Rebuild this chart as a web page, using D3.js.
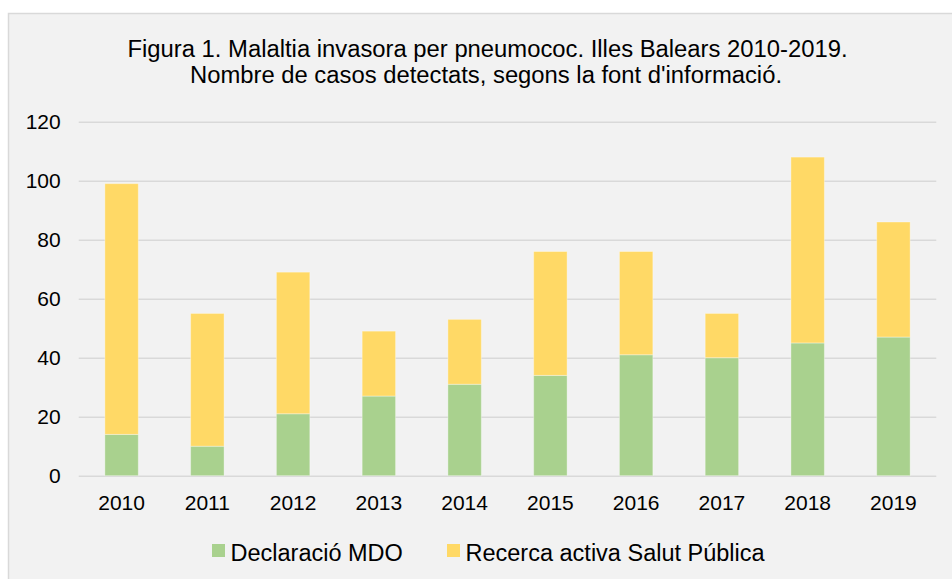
<!DOCTYPE html>
<html>
<head>
<meta charset="utf-8">
<script src="https://cdn.jsdelivr.net/npm/d3@7"></script>
<style>
  body { margin: 0; background: #fff; }
  text { font-family: "Liberation Sans", Arial, sans-serif; fill: #000; }
</style>
</head>
<body>
<script>
var years = ['2010', '2011', '2012', '2013', '2014', '2015', '2016', '2017', '2018', '2019'];
var declaracio = [14, 10, 21, 27, 31, 34, 41, 40, 45, 47];
var recerca = [85, 45, 48, 22, 22, 42, 35, 15, 63, 39];
var yTicks = [0, 20, 40, 60, 80, 100, 120];
var seriesNames = ['Declaració MDO', 'Recerca activa Salut Pública'];
var colors = ['#a9d18e', '#ffd966'];
var titleLines = [
    'Figura 1. Malaltia  invasora per pneumococ. Illes Balears 2010-2019.',
    'Nombre de casos detectats, segons la font d\'informació.'
];

var width = 952,
    height = 579,
    padding = { top: 121.7, bottom: 103.3, left: 78.7, right: 15.7 };

var svg = d3.select('body')
    .append('svg')
    .attr('width', width)
    .attr('height', height)

// chart background
svg.append('rect')
    .attr('x', 8.5).attr('y', 13.5)
    .attr('width', width).attr('height', height)
    .attr('fill', '#f2f2f2')
    .attr('stroke', '#d9d9d9')
    .attr('stroke-width', 1.5)

var title = svg.append('g').style('white-space', 'pre')
title.append('text')
    .attr('x', 487.5).attr('y', 56.5)
    .attr('text-anchor', 'middle')
    .attr('font-size', '23px')
    .attr('textLength', 720)
    .attr('lengthAdjust', 'spacingAndGlyphs')
    .text(titleLines[0])
title.append('text')
    .attr('x', 486).attr('y', 82.5)
    .attr('text-anchor', 'middle')
    .attr('font-size', '23px')
    .attr('textLength', 592)
    .attr('lengthAdjust', 'spacingAndGlyphs')
    .text(titleLines[1])

var x = d3.scaleBand()
    .domain(years)
    .range([padding.left, width - padding.right])
    .paddingInner(0.61)
    .paddingOuter(0.305)
var y = d3.scaleLinear()
    .domain([0, 120])
    .range([height - padding.bottom, padding.top])

var plotW = width - padding.right - padding.left;

var yAxis = svg.append('g')
    .attr('transform', `translate(${padding.left}, 0)`)
    .call(d3.axisLeft(y).tickValues(yTicks).tickSize(-plotW).tickPadding(18))
yAxis.select('.domain').remove()
yAxis.selectAll('line').attr('stroke', '#d9d9d9').attr('stroke-width', 1.5)
yAxis.selectAll('text').attr('font-size', '21px').attr('font-family', '"Liberation Sans", Arial, sans-serif')

var xAxis = svg.append('g')
    .attr('transform', `translate(0, ${y(0)})`)
    .call(d3.axisBottom(x).tickSize(0).tickPadding(19.5))
xAxis.select('.domain').remove()
xAxis.selectAll('text').attr('font-size', '21px').attr('font-family', '"Liberation Sans", Arial, sans-serif')

var rows = years.map((yr, i) => ({ year: yr, a: declaracio[i], b: recerca[i] }))
var stacked = d3.stack().keys(['a', 'b'])(rows)

svg.append('g')
    .selectAll('g')
    .data(stacked)
    .join('g')
    .attr('fill', (d, i) => colors[i])
    .selectAll('rect')
    .data(d => d)
    .join('rect')
    .attr('x', d => x(d.data.year))
    .attr('width', x.bandwidth())
    .attr('y', d => y(d[1]))
    .attr('height', d => y(d[0]) - y(d[1]))
    .attr('stroke', 'rgba(255,255,255,0.35)')
    .attr('stroke-width', 1)

// legend
var legendX = [212, 447];
var legend = svg.append('g')
    .selectAll('g')
    .data(seriesNames)
    .join('g')
    .attr('transform', (d, i) => `translate(${legendX[i]}, 544)`)
legend.append('rect')
    .attr('width', 13).attr('height', 13)
    .attr('fill', (d, i) => colors[i])
legend.append('text')
    .attr('x', 18.5).attr('y', 16.7)
    .attr('font-size', '23.5px')
    .text(d => d)
</script>
</body>
</html>
